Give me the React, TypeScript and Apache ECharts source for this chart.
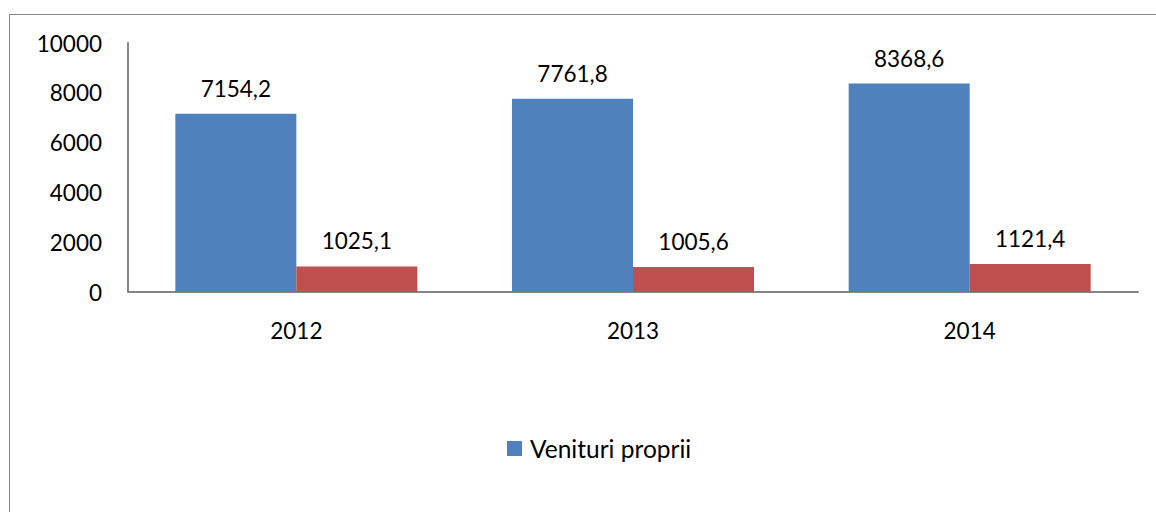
import React, { useEffect, useRef } from "react";
import * as echarts from "echarts";

const categories = ["2012", "2013", "2014"];
const venituriProprii = [7154.2, 7761.8, 8368.6];
const seria2 = [1025.1, 1005.6, 1121.4];
const legendName = "Venituri proprii";

const fmt = (v: number) => v.toFixed(1).replace(".", ",");

export default function App() {
  const ref = useRef<HTMLDivElement>(null);
  useEffect(() => {
    document.body.style.margin = "0";
    const chart = echarts.init(ref.current!, null, { renderer: "svg" });
    const font = "Lato, 'Open Sans', sans-serif";
    chart.setOption({
      animation: false,
      backgroundColor: "#ffffff",
      textStyle: { fontFamily: font },
      graphic: [
        {
          type: "rect",
          left: 7,
          top: 12,
          shape: { width: 1300, height: 700 },
          style: { fill: "none", stroke: "#868686", lineWidth: 1 },
          silent: true,
        },
      ],
      legend: {
        data: [legendName],
        left: 507,
        top: 436,
        padding: 0,
        icon: "rect",
        itemWidth: 15,
        itemHeight: 15,
        textStyle: { fontFamily: font, fontSize: 24.5, color: "#000", padding: [0, 0, 0, 3] },
      },
      grid: { left: 128, right: 18, top: 43, bottom: 220, containLabel: false },
      xAxis: {
        type: "category",
        data: categories,
        axisLine: { lineStyle: { color: "#868686", width: 2 } },
        axisTick: { show: false },
        axisLabel: { fontFamily: font, fontSize: 22.5, color: "#000", margin: 27 },
      },
      yAxis: {
        type: "value",
        min: 0,
        max: 10000,
        interval: 2000,
        splitLine: { show: false },
        axisLine: { show: true, lineStyle: { color: "#868686", width: 2 } },
        axisTick: { show: false },
        axisLabel: {
          fontFamily: font,
          fontSize: 22.5,
          color: "#000",
          margin: 26,
          formatter: (v: number) => String(v),
        },
      },
      series: [
        {
          name: legendName,
          type: "bar",
          data: venituriProprii,
          barWidth: 121,
          barGap: "0%",
          itemStyle: { color: "#4F81BD" },
          label: {
            show: true,
            position: "top",
            distance: 14,
            fontFamily: font,
            fontSize: 22.5,
            color: "#000",
            formatter: (p: any) => fmt(p.value),
          },
        },
        {
          name: "Seria 2",
          type: "bar",
          data: seria2,
          barWidth: 121,
          barGap: "0%",
          itemStyle: { color: "#C0504D" },
          label: {
            show: true,
            position: "top",
            distance: 14,
            fontFamily: font,
            fontSize: 22.5,
            color: "#000",
            formatter: (p: any) => fmt(p.value),
          },
        },
      ],
    });
    return () => chart.dispose();
  }, []);
  return <div ref={ref} style={{ width: 1156, height: 512 }} />;
}
